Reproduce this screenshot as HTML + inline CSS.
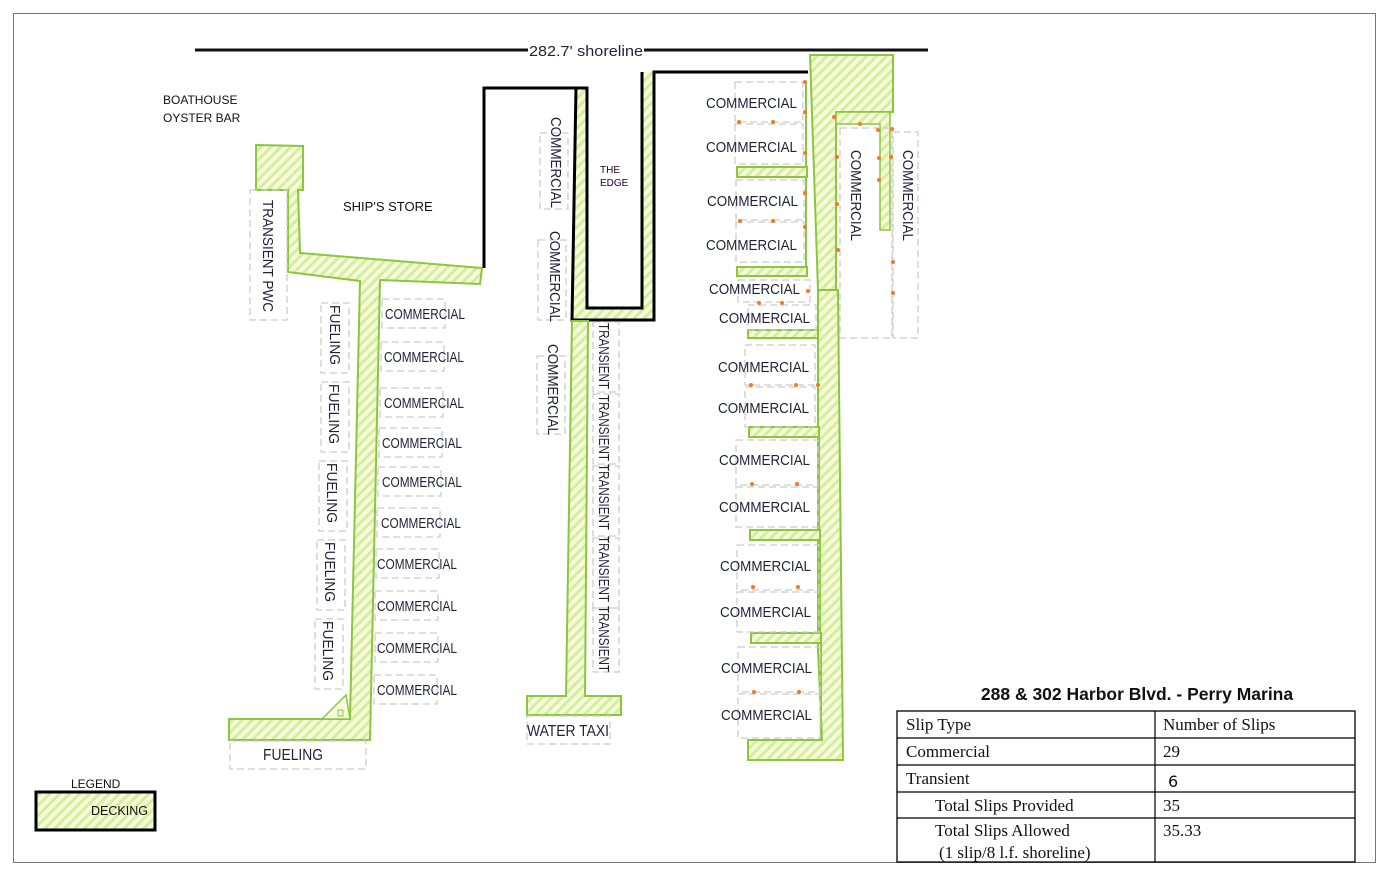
<!DOCTYPE html>
<html><head><meta charset="utf-8"><style>
html,body{margin:0;padding:0;background:#fff;}
svg{display:block;}
.l{font-family:"Liberation Sans",sans-serif;font-size:15px;fill:#1e2233;}
.s{font-family:"Liberation Sans",sans-serif;font-size:12px;fill:#111;}
.t{font-family:"Liberation Serif",serif;font-size:17px;fill:#111;}
.d{fill:url(#h);stroke:#8cc63f;stroke-width:2;}
.b{fill:none;stroke:#ccc;stroke-width:1.3;stroke-dasharray:7 4;}
.o{fill:#f47a20;}
</style></head><body>
<svg width="1390" height="872" viewBox="0 0 1390 872" xmlns="http://www.w3.org/2000/svg">
<defs>
<pattern id="h" patternUnits="userSpaceOnUse" width="7" height="7" patternTransform="rotate(45)">
<rect width="7" height="7" fill="#f6fbe0"/><rect width="3" height="7" fill="#d6ee9a"/>
</pattern>
</defs>
<rect x="13.5" y="13.5" width="1362" height="849" fill="none" stroke="#777" stroke-width="1"/>

<line x1="195" y1="50" x2="928" y2="50" stroke="#111" stroke-width="3"/>
<rect x="528" y="41" width="116" height="18" fill="#fff"/>
<text x="529" y="56" class="l" textLength="114" lengthAdjust="spacingAndGlyphs">282.7' shoreline</text>

<text x="163" y="104" class="s">BOATHOUSE</text>
<text x="163" y="122" class="s">OYSTER BAR</text>
<text x="343" y="211" class="s" style="font-size:13px">SHIP'S STORE</text>
<text x="600" y="173" class="s" style="font-size:10px;fill:#202">THE</text>
<text x="600" y="186" class="s" style="font-size:10px;fill:#202">EDGE</text>

<path class="d" d="M256,145 L303,146 L303,190 L298,190 L300,253 L482,268 L480,284 L380,280 L370,740 L229,740 L229,719 L350,719 L360,281 L288,272 L288,190 L256,190 Z"/>
<path d="M322,719 L346,695 L350,719 Z" fill="#f6fbe0" stroke="#8cc63f" stroke-width="1.5"/>
<rect x="338" y="710" width="5" height="6" fill="none" stroke="#8cc63f"/>

<rect class="b" x="250" y="190" width="37" height="130"/>
<text class="l" transform="translate(263,200) rotate(90)" textLength="112" lengthAdjust="spacingAndGlyphs">TRANSIENT PWC</text>
<g>
<rect class="b" x="321" y="303" width="28" height="70"/>
<rect class="b" x="321" y="382" width="28" height="70"/>
<rect class="b" x="319" y="461" width="28" height="70"/>
<rect class="b" x="317" y="540" width="28" height="70"/>
<rect class="b" x="315" y="619" width="28" height="70"/>
<text class="l" transform="translate(330,305) rotate(90)" textLength="60" lengthAdjust="spacingAndGlyphs">FUELING</text>
<text class="l" transform="translate(329,384) rotate(90)" textLength="60" lengthAdjust="spacingAndGlyphs">FUELING</text>
<text class="l" transform="translate(327,463) rotate(90)" textLength="60" lengthAdjust="spacingAndGlyphs">FUELING</text>
<text class="l" transform="translate(325,542) rotate(90)" textLength="60" lengthAdjust="spacingAndGlyphs">FUELING</text>
<text class="l" transform="translate(323,621) rotate(90)" textLength="60" lengthAdjust="spacingAndGlyphs">FUELING</text>
</g>
<g>
<rect class="b" x="382" y="299" width="63" height="29"/>
<rect class="b" x="381" y="342" width="63" height="29"/>
<rect class="b" x="380" y="388" width="63" height="29"/>
<rect class="b" x="379" y="428" width="63" height="29"/>
<rect class="b" x="378" y="467" width="63" height="29"/>
<rect class="b" x="377" y="508" width="63" height="29"/>
<rect class="b" x="376" y="549" width="63" height="29"/>
<rect class="b" x="375" y="591" width="63" height="29"/>
<rect class="b" x="375" y="633" width="63" height="29"/>
<rect class="b" x="374" y="675" width="63" height="29"/>
<text class="l" x="385" y="319" textLength="80" lengthAdjust="spacingAndGlyphs">COMMERCIAL</text>
<text class="l" x="384" y="362" textLength="80" lengthAdjust="spacingAndGlyphs">COMMERCIAL</text>
<text class="l" x="384" y="408" textLength="80" lengthAdjust="spacingAndGlyphs">COMMERCIAL</text>
<text class="l" x="382" y="448" textLength="80" lengthAdjust="spacingAndGlyphs">COMMERCIAL</text>
<text class="l" x="382" y="487" textLength="80" lengthAdjust="spacingAndGlyphs">COMMERCIAL</text>
<text class="l" x="381" y="528" textLength="80" lengthAdjust="spacingAndGlyphs">COMMERCIAL</text>
<text class="l" x="377" y="569" textLength="80" lengthAdjust="spacingAndGlyphs">COMMERCIAL</text>
<text class="l" x="377" y="611" textLength="80" lengthAdjust="spacingAndGlyphs">COMMERCIAL</text>
<text class="l" x="377" y="653" textLength="80" lengthAdjust="spacingAndGlyphs">COMMERCIAL</text>
<text class="l" x="377" y="695" textLength="80" lengthAdjust="spacingAndGlyphs">COMMERCIAL</text>
</g>
<rect class="b" x="230" y="741" width="136" height="28"/>
<text class="l" x="263" y="760" style="font-size:16px" textLength="60" lengthAdjust="spacingAndGlyphs">FUELING</text>

<path d="M576,88 L587,88 L587,308 L642,308 L642,72 L654,72 L654,320 L572,320 Z" fill="url(#h)"/>
<polyline points="484,268 484,88 587,88 587,308 642,308 642,72" fill="none" stroke="#000" stroke-width="3"/>
<polyline points="576,88 572,320 654,320 654,72 808,72" fill="none" stroke="#000" stroke-width="3"/>

<rect class="b" x="540" y="133" width="28" height="76"/>
<rect class="b" x="538" y="240" width="28" height="80"/>
<rect class="b" x="537" y="356" width="28" height="78"/>
<text class="l" transform="translate(551,117) rotate(90)" textLength="91" lengthAdjust="spacingAndGlyphs">COMMERCIAL</text>
<text class="l" transform="translate(550,231) rotate(90)" textLength="91" lengthAdjust="spacingAndGlyphs">COMMERCIAL</text>
<text class="l" transform="translate(548,344) rotate(90)" textLength="91" lengthAdjust="spacingAndGlyphs">COMMERCIAL</text>

<path class="d" d="M572,321 L588,321 L585,696 L621,696 L621,715 L527,715 L527,696 L566,696 Z"/>
<g>
<rect class="b" x="593" y="322" width="26" height="70"/>
<rect class="b" x="593" y="394" width="26" height="70"/>
<rect class="b" x="593" y="466" width="26" height="70"/>
<rect class="b" x="593" y="538" width="26" height="70"/>
<rect class="b" x="593" y="608" width="26" height="64"/>
<text class="l" transform="translate(599,323) rotate(90)" textLength="66" lengthAdjust="spacingAndGlyphs">TRANSIENT</text>
<text class="l" transform="translate(599,395) rotate(90)" textLength="66" lengthAdjust="spacingAndGlyphs">TRANSIENT</text>
<text class="l" transform="translate(599,464) rotate(90)" textLength="66" lengthAdjust="spacingAndGlyphs">TRANSIENT</text>
<text class="l" transform="translate(599,536) rotate(90)" textLength="66" lengthAdjust="spacingAndGlyphs">TRANSIENT</text>
<text class="l" transform="translate(599,606) rotate(90)" textLength="66" lengthAdjust="spacingAndGlyphs">TRANSIENT</text>
</g>
<rect class="b" x="527" y="716" width="83" height="28"/>
<text class="l" x="527" y="736" style="font-size:16px" textLength="82" lengthAdjust="spacingAndGlyphs">WATER TAXI</text>

<path class="d" d="M810,55 L893,55 L893,112 L836,112 L836,290 L818,290 Z"/>
<path class="d" d="M836,112 L890,112 L890,230 L880,230 L880,124 L836,124 Z" style="stroke-width:1.5"/>
<path class="d" d="M818,290 L838,290 L843,760 L748,760 L748,740 L822,740 L818,650 Z"/>
<rect class="d" x="737" y="167" width="70" height="10"/>
<rect class="d" x="737" y="267" width="70" height="9"/>
<rect class="d" x="748" y="330" width="70" height="8"/>
<rect class="d" x="749" y="427" width="70" height="10"/>
<rect class="d" x="750" y="530" width="70" height="10"/>
<rect class="d" x="751" y="633" width="70" height="10"/>
<line x1="806" y1="82" x2="806" y2="167" stroke="#8cc63f" stroke-width="2"/>
<line x1="806" y1="177" x2="806" y2="267" stroke="#8cc63f" stroke-width="2"/>
<line x1="818" y1="338" x2="818" y2="427" stroke="#8cc63f" stroke-width="2"/>
<line x1="819" y1="437" x2="819" y2="530" stroke="#8cc63f" stroke-width="2"/>
<line x1="820" y1="540" x2="820" y2="633" stroke="#8cc63f" stroke-width="2"/>
<line x1="821" y1="643" x2="821" y2="740" stroke="#8cc63f" stroke-width="2"/>

<g class="b">
<rect x="735" y="82" width="68" height="40"/><rect x="735" y="124" width="68" height="40"/>
<rect x="736" y="180" width="68" height="40"/><rect x="736" y="222" width="68" height="40"/>
<rect x="738" y="280" width="72" height="22"/><rect x="748" y="305" width="68" height="25"/>
<rect x="745" y="345" width="70" height="40"/><rect x="745" y="387" width="70" height="40"/>
<rect x="736" y="440" width="82" height="45"/><rect x="736" y="487" width="82" height="40"/>
<rect x="737" y="545" width="82" height="45"/><rect x="737" y="592" width="82" height="40"/>
<rect x="738" y="647" width="82" height="45"/><rect x="738" y="694" width="82" height="44"/>
<rect x="840" y="128" width="52" height="210"/><rect x="893" y="132" width="25" height="206"/>
</g>
<g>
<text class="l" x="706" y="108" textLength="91" lengthAdjust="spacingAndGlyphs">COMMERCIAL</text>
<text class="l" x="706" y="152" textLength="91" lengthAdjust="spacingAndGlyphs">COMMERCIAL</text>
<text class="l" x="707" y="206" textLength="91" lengthAdjust="spacingAndGlyphs">COMMERCIAL</text>
<text class="l" x="706" y="250" textLength="91" lengthAdjust="spacingAndGlyphs">COMMERCIAL</text>
<text class="l" x="709" y="294" textLength="91" lengthAdjust="spacingAndGlyphs">COMMERCIAL</text>
<text class="l" x="719" y="323" textLength="91" lengthAdjust="spacingAndGlyphs">COMMERCIAL</text>
<text class="l" x="718" y="372" textLength="91" lengthAdjust="spacingAndGlyphs">COMMERCIAL</text>
<text class="l" x="718" y="413" textLength="91" lengthAdjust="spacingAndGlyphs">COMMERCIAL</text>
<text class="l" x="719" y="465" textLength="91" lengthAdjust="spacingAndGlyphs">COMMERCIAL</text>
<text class="l" x="719" y="512" textLength="91" lengthAdjust="spacingAndGlyphs">COMMERCIAL</text>
<text class="l" x="720" y="571" textLength="91" lengthAdjust="spacingAndGlyphs">COMMERCIAL</text>
<text class="l" x="720" y="617" textLength="91" lengthAdjust="spacingAndGlyphs">COMMERCIAL</text>
<text class="l" x="721" y="673" textLength="91" lengthAdjust="spacingAndGlyphs">COMMERCIAL</text>
<text class="l" x="721" y="720" textLength="91" lengthAdjust="spacingAndGlyphs">COMMERCIAL</text>
<text class="l" transform="translate(851,150) rotate(90)" textLength="91" lengthAdjust="spacingAndGlyphs">COMMERCIAL</text>
<text class="l" transform="translate(903,150) rotate(90)" textLength="91" lengthAdjust="spacingAndGlyphs">COMMERCIAL</text>
</g>
<g class="o">
<circle cx="805" cy="82" r="2"/><circle cx="805" cy="112" r="2"/><circle cx="739" cy="122" r="2"/><circle cx="773" cy="122" r="2"/>
<circle cx="805" cy="153" r="2"/><circle cx="805" cy="193" r="2"/><circle cx="740" cy="221" r="2"/><circle cx="773" cy="221" r="2"/>
<circle cx="805" cy="227" r="2"/><circle cx="808" cy="291" r="2"/><circle cx="759" cy="303" r="2"/><circle cx="782" cy="303" r="2"/>
<circle cx="834" cy="117" r="2"/><circle cx="837" cy="157" r="2"/><circle cx="837" cy="204" r="2"/><circle cx="838" cy="250" r="2"/>
<circle cx="860" cy="124" r="2"/><circle cx="878" cy="130" r="2"/><circle cx="879" cy="158" r="2"/><circle cx="879" cy="180" r="2"/>
<circle cx="892" cy="129" r="2"/><circle cx="891" cy="157" r="2"/><circle cx="893" cy="262" r="2"/><circle cx="893" cy="293" r="2"/>
<circle cx="751" cy="385" r="2"/><circle cx="796" cy="385" r="2"/><circle cx="818" cy="385" r="2"/>
<circle cx="752" cy="484" r="2"/><circle cx="797" cy="484" r="2"/>
<circle cx="753" cy="587" r="2"/><circle cx="798" cy="587" r="2"/>
<circle cx="754" cy="692" r="2"/><circle cx="799" cy="692" r="2"/>
</g>

<text x="71" y="788" class="s">LEGEND</text>
<rect x="36" y="792" width="119" height="38" fill="url(#h)" stroke="#000" stroke-width="3"/>
<text x="91" y="815" class="s" style="font-size:12.5px">DECKING</text>

<text x="1137" y="700" font-family="Liberation Sans, sans-serif" font-weight="bold" font-size="17.5" text-anchor="middle" fill="#111">288 &amp; 302 Harbor Blvd. - Perry Marina</text>
<rect x="897" y="711" width="458" height="151" fill="#fff" stroke="#000" stroke-width="1.3"/>
<g stroke="#000" stroke-width="1.2">
<line x1="1155" y1="711" x2="1155" y2="862"/>
<line x1="897" y1="738" x2="1355" y2="738"/>
<line x1="897" y1="765" x2="1355" y2="765"/>
<line x1="897" y1="792" x2="1355" y2="792"/>
<line x1="897" y1="818" x2="1355" y2="818"/>
</g>
<text class="t" x="906" y="730">Slip Type</text>
<text class="t" x="1163" y="730">Number of Slips</text>
<text class="t" x="906" y="757">Commercial</text>
<text class="t" x="1163" y="757">29</text>
<text class="t" x="906" y="784">Transient</text>
<text class="t" x="1168" y="787" style="font-family:'DejaVu Sans',sans-serif;font-size:16px">6</text>
<text class="t" x="935" y="811">Total Slips Provided</text>
<text class="t" x="1163" y="811">35</text>
<text class="t" x="935" y="836">Total Slips Allowed</text>
<text class="t" x="939" y="858">(1 slip/8 l.f. shoreline)</text>
<text class="t" x="1163" y="836">35.33</text>
</svg>
</body></html>
